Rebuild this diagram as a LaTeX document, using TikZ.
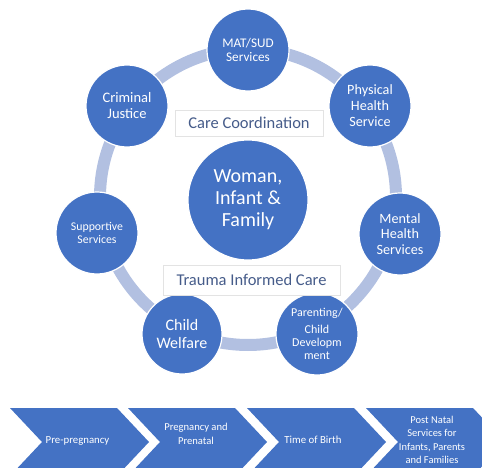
\documentclass[tikz,border=0pt]{standalone}
\usepackage{fontspec}
\setmainfont{Carlito}
\definecolor{nodeblue}{RGB}{68,114,196}
\definecolor{ringblue}{RGB}{178,192,225}
\definecolor{labeltext}{RGB}{70,92,138}
\tikzset{
  svc/.style={circle, fill=nodeblue, draw=white, line width=1.2pt, minimum size=82pt,
    inner sep=0pt, text=white, align=center},
  ringband/.style={draw=ringblue, line width=12pt},
  lbox/.style={rectangle, fill=white, draw=gray!22, line width=0.6pt, inner sep=0pt,
    text=labeltext, font=\fontsize{16.5}{18}\selectfont},
  chevshape/.style={fill=nodeblue},
  chevtext/.style={text=white, align=center, inner sep=0pt, font=\fontsize{10.8}{13.5}\selectfont}
}
\begin{document}
\begin{tikzpicture}[x=1pt,y=-1pt]
\useasboundingbox (0,0) rectangle (482,468);
\begin{scope}
\clip (0,0) rectangle (482,468);
% ring
\draw[ringband] (248,197) circle[radius=148pt];
% circles
\node[svc, font=\fontsize{13.2}{14.5}\selectfont] (mat) at (248,50) {MAT/SUD\\Services};
\node[svc, font=\fontsize{14.2}{16}\selectfont] (phys) at (370,106) {Physical\\Health\\Service};
\node[svc, font=\fontsize{14.2}{15.5}\selectfont] (mental) at (400,234) {Mental\\Health\\Services};
\node[svc, font=\fontsize{12}{13}\selectfont] (parent) at (317,334) {Parenting/\\[4pt]Child\\Developm\\ment};
\node[svc, minimum size=80pt, font=\fontsize{16}{17.5}\selectfont] (child) at (182,334) {Child\\Welfare};
\node[svc, font=\fontsize{11.8}{13}\selectfont] (supp) at (97,233) {Supportive\\Services};
\node[svc, font=\fontsize{14.5}{16}\selectfont] (crim) at (127,106) {Criminal\\Justice};
\node[svc, minimum size=120pt, font=\fontsize{20}{22}\selectfont] (wif) at (248,200) {Woman,\\Infant \&\\Family};
% label boxes
\node[lbox, minimum width=148pt, minimum height=26pt] (care) at (249,123) {Care Coordination};
\node[lbox, minimum width=177pt, minimum height=30pt] (trauma) at (251.5,280) {Trauma Informed Care};
% chevrons
\foreach \x in {10,128,247,366} {
  \fill[chevshape] (\x,408) -- (\x+107,408) -- (\x+139,442) -- (\x+107,476) -- (\x,476) -- (\x+32,442) -- cycle;
}
\node[chevtext] (c1) at (77.5,441) {Pre-pregnancy};
\node[chevtext, font=\fontsize{10.6}{14}\selectfont] (c2) at (196,434) {Pregnancy and\\Prenatal};
\node[chevtext] (c3) at (313,440) {Time of Birth};
\node[chevtext, font=\fontsize{10.5}{13.5}\selectfont] (c4) at (432,440) {Post Natal\\Services for\\Infants, Parents\\and Families};
\end{scope}
\end{tikzpicture}
\end{document}
